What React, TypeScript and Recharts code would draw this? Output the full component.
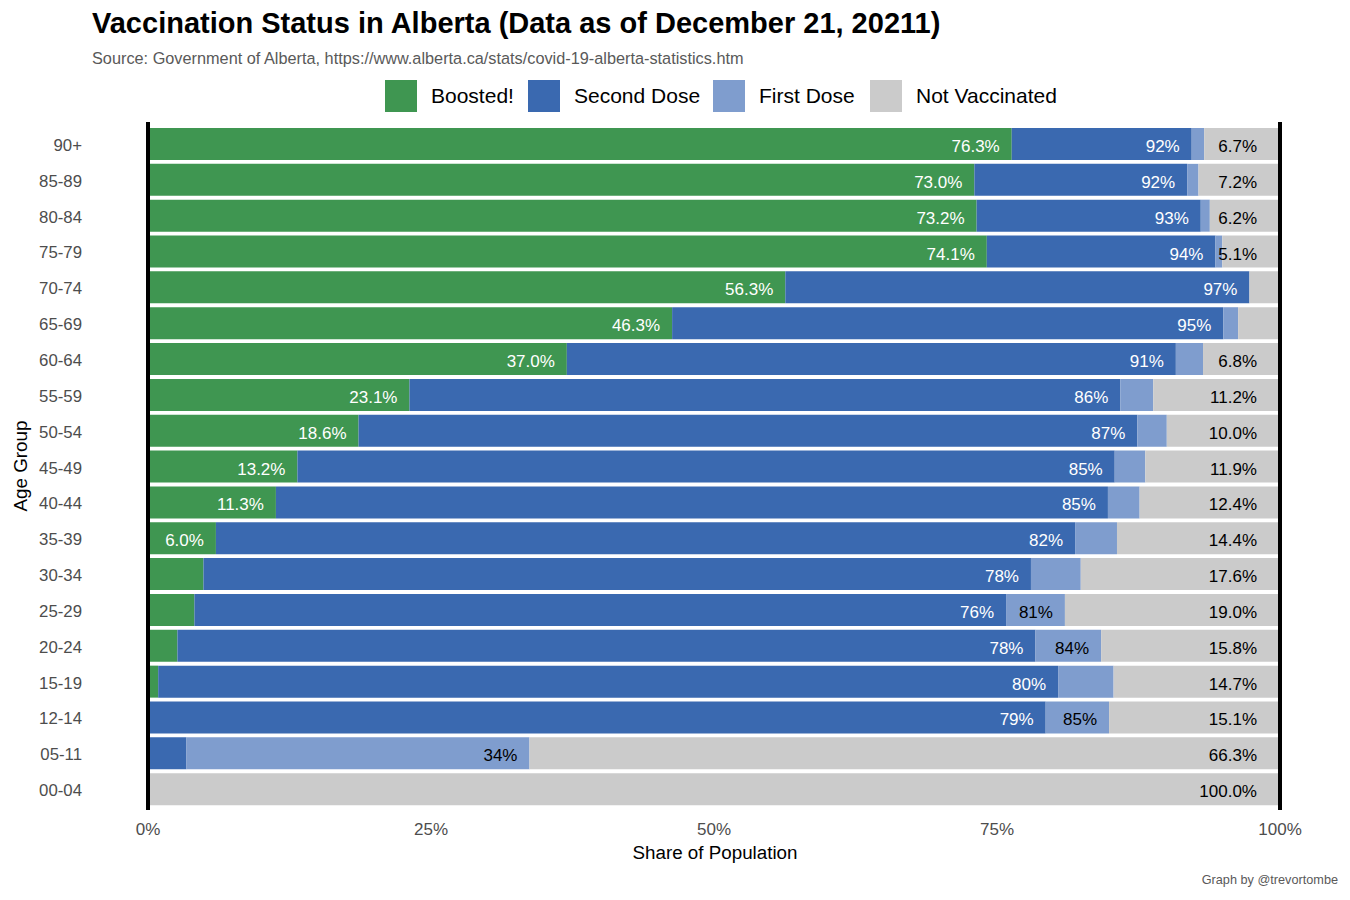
import React from "react";
import {
  BarChart,
  Bar,
  XAxis,
  YAxis,
  LabelList,
  ReferenceLine,
} from "recharts";

// Values (cumulative shares of each age group, %)
const ageGroups = [
  "90+", "85-89", "80-84", "75-79", "70-74", "65-69", "60-64", "55-59", "50-54",
  "45-49", "40-44", "35-39", "30-34", "25-29", "20-24", "15-19", "12-14", "05-11", "00-04",
];
const boosted = [76.3, 73.0, 73.2, 74.1, 56.3, 46.3, 37.0, 23.1, 18.6, 13.2, 11.3, 6.0, 4.9, 4.1, 2.6, 0.9, 0, 0, 0];
const secondDose = [92.2, 91.8, 93.0, 94.3, 97.3, 95.0, 90.8, 85.9, 87.4, 85.4, 84.8, 81.9, 78.0, 75.8, 78.4, 80.4, 79.3, 3.4, 0];
const firstDose = [93.3, 92.8, 93.8, 94.9, 97.3, 96.3, 93.2, 88.8, 90.0, 88.1, 87.6, 85.6, 82.4, 81.0, 84.2, 85.3, 84.9, 33.7, 0];
const xTicks = [0, 25, 50, 75, 100];

const COLORS = {
  boosted: "#3f9651",
  second: "#3a69b0",
  first: "#7f9dce",
  none: "#cbcbcb",
};

const FONT = '"Liberation Sans", Arial, Helvetica, sans-serif';
const MIN_LABEL = 5; // segments narrower than this get no label

const rows = ageGroups.map((age, i) => {
  const b = boosted[i];
  const s = secondDose[i] - boosted[i];
  const f = firstDose[i] - secondDose[i];
  const n = 100 - firstDose[i];
  return {
    age,
    boosted: b,
    second: s,
    first: f,
    none: n,
    boostedLabel: b > MIN_LABEL ? `${b.toFixed(1)}%` : "",
    secondLabel: s > MIN_LABEL ? `${Math.round(secondDose[i])}%` : "",
    firstLabel: f > MIN_LABEL ? `${Math.round(firstDose[i])}%` : "",
    noneLabel: n > MIN_LABEL ? `${n.toFixed(1)}%` : "",
  };
});

// legend keys, with the left edge of each key as laid out in the original
const legendItems = [
  { name: "Boosted!", color: COLORS.boosted, left: 385 },
  { name: "Second Dose", color: COLORS.second, left: 528 },
  { name: "First Dose", color: COLORS.first, left: 713 },
  { name: "Not Vaccinated", color: COLORS.none, left: 870 },
];

function segmentLabel(fill: string, pad: number) {
  return (props: any) => {
    const { x, y, width, height, value } = props;
    if (!value) return null;
    return (
      <text
        x={Number(x) + Number(width) - pad}
        y={Number(y) + Number(height) / 2 + 8}
        textAnchor="end"
        fill={fill}
        fontSize={17}
        fontFamily={FONT}
      >
        {value}
      </text>
    );
  };
}

const YTick = ({ y, payload }: any) => (
  <text x={82} y={y + 7} textAnchor="end" fill="#4d4d4d" fontSize={16.8} fontFamily={FONT}>
    {payload.value}
  </text>
);

const XTick = ({ x, payload }: any) => (
  <text x={x} y={835} textAnchor="middle" fill="#4d4d4d" fontSize={17} fontFamily={FONT}>
    {payload.value}%
  </text>
);

const EdgeLine = (p: any) => (
  <line x1={p.x1} x2={p.x2} y1={Math.min(p.y1, p.y2) - 4} y2={Math.max(p.y1, p.y2) + 3} stroke="#000" strokeWidth={4} />
);

export default function App() {
  return (
    <div style={{ position: "absolute", left: 0, top: 0, width: 1350, height: 900, background: "#fff", fontFamily: FONT }}>
      <div style={{ position: "absolute", left: 92, top: 9, fontSize: 29, lineHeight: "29px", fontWeight: 700, color: "#000", whiteSpace: "nowrap" }}>
        Vaccination Status in Alberta (Data as of December 21, 20211)
      </div>
      <div style={{ position: "absolute", left: 92, top: 50, fontSize: 16.3, lineHeight: "16px", color: "#595959", whiteSpace: "nowrap" }}>
        Source: Government of Alberta, https://www.alberta.ca/stats/covid-19-alberta-statistics.htm
      </div>
      {legendItems.map((it) => (
        <div key={it.name} style={{ position: "absolute", left: it.left, top: 80, height: 32, display: "flex", alignItems: "center", whiteSpace: "nowrap" }}>
          <span style={{ width: 32, height: 32, background: it.color, display: "inline-block", marginRight: 14 }} />
          <span style={{ fontSize: 21, color: "#000" }}>{it.name}</span>
        </div>
      ))}
      <BarChart
        width={1350}
        height={900}
        layout="vertical"
        data={rows}
        margin={{ top: 126, right: 70, bottom: 63, left: 0 }}
        barSize={32}
      >
        <XAxis
          type="number"
          domain={[0, 100]}
          ticks={xTicks}
          axisLine={false}
          tickLine={false}
          height={30}
          tick={<XTick />}
          label={{
            content: () => (
              <text x={715} y={859} textAnchor="middle" fontSize={18.8} fill="#000" fontFamily={FONT}>
                Share of Population
              </text>
            ),
          }}
        />
        <YAxis
          type="category"
          dataKey="age"
          width={148}
          axisLine={false}
          tickLine={false}
          interval={0}
          tick={<YTick />}
          label={{
            content: () => (
              <text transform="translate(27,466) rotate(-90)" textAnchor="middle" fontSize={18.8} fill="#000" fontFamily={FONT}>
                Age Group
              </text>
            ),
          }}
        />
        <Bar dataKey="boosted" stackId="a" name="Boosted!" fill={COLORS.boosted} isAnimationActive={false}>
          <LabelList dataKey="boostedLabel" content={segmentLabel("#fff", 12)} />
        </Bar>
        <Bar dataKey="second" stackId="a" name="Second Dose" fill={COLORS.second} isAnimationActive={false}>
          <LabelList dataKey="secondLabel" content={segmentLabel("#fff", 12)} />
        </Bar>
        <Bar dataKey="first" stackId="a" name="First Dose" fill={COLORS.first} isAnimationActive={false}>
          <LabelList dataKey="firstLabel" content={segmentLabel("#000", 12)} />
        </Bar>
        <Bar dataKey="none" stackId="a" name="Not Vaccinated" fill={COLORS.none} isAnimationActive={false}>
          <LabelList dataKey="noneLabel" content={segmentLabel("#000", 23)} />
        </Bar>
        <ReferenceLine x={0} shape={EdgeLine} />
        <ReferenceLine x={100} shape={EdgeLine} />
      </BarChart>
      <div style={{ position: "absolute", right: 12, top: 873, fontSize: 12.7, color: "#595959", whiteSpace: "nowrap" }}>
        Graph by @trevortombe
      </div>
    </div>
  );
}
